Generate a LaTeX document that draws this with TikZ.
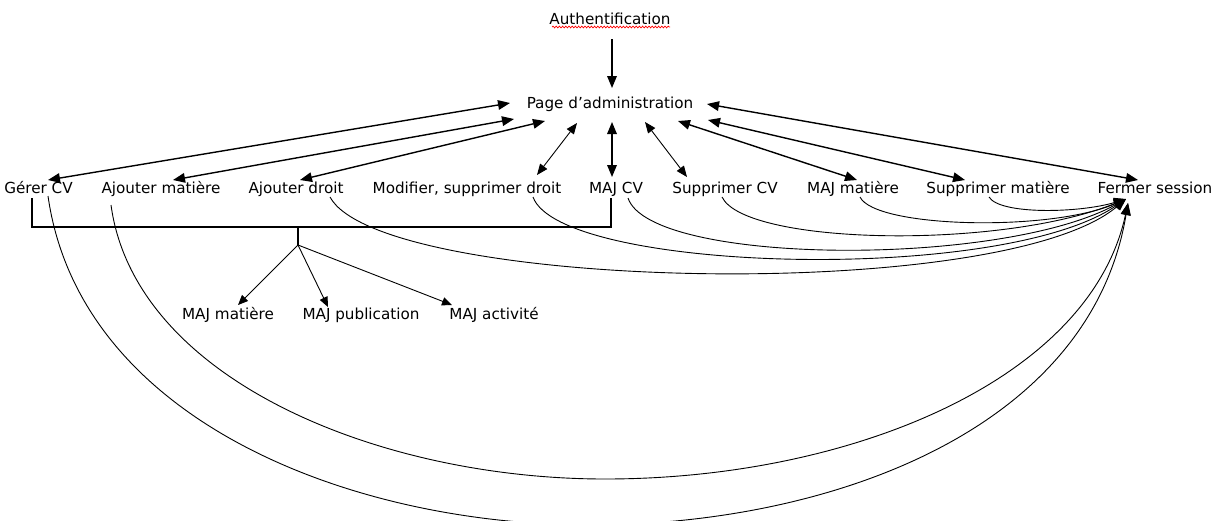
\documentclass[tikz,border=0pt]{standalone}
\usepackage{fontspec}
\setmainfont{DejaVu Sans}
\usetikzlibrary{arrows.meta,calc,decorations.pathmorphing}
\tikzset{
  lbl/.style={inner sep=0pt, anchor=base, font=\fontsize{7.6pt}{9pt}\selectfont},
  thick line/.style={line width=0.7pt},
  thin line/.style={line width=0.45pt},
  tipA/.style={-{Triangle[length=6pt,width=4.8pt]}},
  tipB/.style={{Triangle[length=6pt,width=4.8pt]}-{Triangle[length=6pt,width=4.8pt]}},
  tipC/.style={-{Triangle[length=5pt,width=4.2pt]}},
  tipD/.style={{Triangle[length=5.5pt,width=4.4pt]}-{Triangle[length=5.5pt,width=4.4pt]}},
}
\begin{document}
\begin{tikzpicture}[x=0.5pt,y=-0.5pt]
\clip (0,0) rectangle (1219,520);
\fill[white] (0,0) rectangle (1219,520);
% nodes
\node[lbl] (auth)   at (610,24)  {Authentification};
\node[lbl] (page)   at (610,108) {Page d’administration};
\node[lbl] (gerer)  at (38.5,193) {Gérer CV};
\node[lbl] (ajmat)  at (161,193) {Ajouter matière};
\node[lbl] (ajdroit) at (296,193) {Ajouter droit};
\node[lbl] (modif)  at (467,193) {Modifier, supprimer droit};
\node[lbl] (majcv)  at (616,193) {MAJ CV};
\node[lbl] (supcv)  at (725,193) {Supprimer CV};
\node[lbl] (majmat) at (853,193) {MAJ matière};
\node[lbl] (supmat) at (998,193) {Supprimer matière};
\node[lbl] (fermer) at (1155,193) {Fermer session};
\node[lbl] (smat)   at (228,319) {MAJ matière};
\node[lbl] (spub)   at (361,319) {MAJ publication};
\node[lbl] (sact)   at (494,319) {MAJ activité};
% spell-check underline
\draw[red, line width=0.35pt, decorate, decoration={snake, amplitude=0.45pt, segment length=1.6pt}]
  ($(auth.base)+(-58,3)$) -- ($(auth.base)+(60,3)$);
% authentification -> page
\draw[thick line, tipA] ($(auth.base)+(2,15)$) -- ($(page.base)+(2,-20)$);
% page <-> row
\draw[thick line, tipB] ($(page.base)+(-100,-5)$) -- ($(gerer.base)+(9.5,-13)$);
\draw[thick line, tipB] ($(page.base)+(-96,11)$) -- ($(ajmat.base)+(12,-13)$);
\draw[thick line, tipB] ($(page.base)+(-65,13)$) -- ($(ajdroit.base)+(4,-13)$);
\draw[thin line, tipD] ($(page.base)+(-33,15)$) -- ($(modif.base)+(70,-18)$);
\draw[thick line, tipB] ($(page.base)+(2,14)$) -- ($(majcv.base)+(-4,-16)$);
\draw[thin line, tipD] ($(page.base)+(35,14)$) -- ($(supcv.base)+(-38,-16)$);
\draw[thick line, tipB] ($(page.base)+(68,13)$) -- ($(majmat.base)+(4,-13)$);
\draw[thick line, tipB] ($(page.base)+(98,12)$) -- ($(supmat.base)+(-33,-13)$);
\draw[thick line, tipB] ($(page.base)+(97,-4)$) -- ($(fermer.base)+(-17,-13)$);
% bracket and sub-items
\coordinate (bmid) at (298,227);
\coordinate (junc) at (298,245);
\draw[thick line] ($(gerer.base)+(-6.5,5)$) |- ($(majcv.base)+(-5,34)$) -- ($(majcv.base)+(-5,5)$);
\draw[thick line] (bmid) -- (junc);
\draw[thin line, tipC] (junc) -- ($(smat.base)+(10,-14)$);
\draw[thin line, tipC] (junc) -- ($(spub.base)+(-33,-12)$);
\draw[thin line, tipC] (junc) -- ($(sact.base)+(-42,-14)$);
% curves to Fermer session
\draw[thin line, tipA] ($(supmat.base)+(-9,4)$) .. controls (1000,215) and (1080,213) .. ($(fermer.base)+(-29,6)$);
\draw[thin line, tipA] ($(majmat.base)+(7,4)$) .. controls (875,228) and (1050,232) .. ($(fermer.base)+(-29,6)$);
\draw[thin line, tipA] ($(supcv.base)+(-3,4)$) .. controls (745,245) and (1000,250) .. ($(fermer.base)+(-29,6)$);
\draw[thin line, tipA] ($(majcv.base)+(12,5)$) .. controls (650,265) and (1000,268) .. ($(fermer.base)+(-29,6)$);
\draw[thin line, tipA] ($(modif.base)+(66,4)$) .. controls (560,272) and (1000,285) .. ($(fermer.base)+(-29,6)$);
\draw[thin line, tipA] ($(ajdroit.base)+(34,4)$) .. controls (380,290) and (1000,305) .. ($(fermer.base)+(-29,6)$);
\draw[thin line, tipA] ($(ajmat.base)+(-50,12)$) .. controls (135,380) and (380,479) .. (605,479)
   .. controls (850,479) and (1090,380) .. ($(fermer.base)+(-27,10)$);
\draw[thin line, tipA] ($(gerer.base)+(9.5,3)$) .. controls (80,420) and (350,525) .. (590,525)
   .. controls (830,525) and (1090,430) .. ($(fermer.base)+(-27,10)$);
\end{tikzpicture}
\end{document}
